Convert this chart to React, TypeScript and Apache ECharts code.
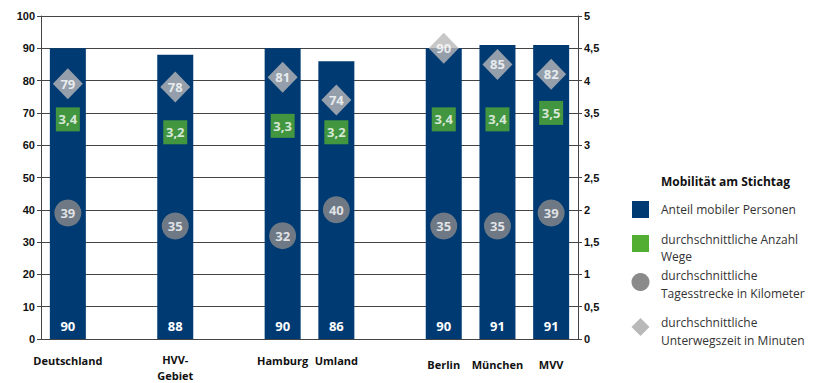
import React, { useEffect, useRef } from "react";
import * as echarts from "echarts";

const categories = ["Deutschland", "", "HVV-\nGebiet", "", "Hamburg", "Umland", "", "Berlin", "München", "MVV"];
const anteilMobil = [90, null, 88, null, 90, 86, null, 90, 91, 91];
const anzahlWege = [3.4, null, 3.2, null, 3.3, 3.2, null, 3.4, 3.4, 3.5];
const tagesstrecke = [39, null, 35, null, 32, 40, null, 35, 35, 39];
const unterwegszeit = [79, null, 78, null, 81, 74, null, 90, 85, 82];

const legendTitle = "Mobilität am Stichtag";
const seriesNames = [
  "Anteil mobiler Personen",
  "durchschnittliche Anzahl\nWege",
  "durchschnittliche\nTagesstrecke in Kilometer",
  "durchschnittliche\nUnterwegszeit in Minuten",
];

const NAVY = "#003a72";
const GREEN = "#52ae32";
const DARKGREY = "#8a8a8a";
const LIGHTGREY = "#b9b9b9";
const FONT = "'Open Sans', sans-serif";

const labelPad: Record<string, number> = {
  Deutschland: 1,
  "HVV-\nGebiet": 0,
  Hamburg: 1,
  Umland: 1,
  Berlin: 5,
  München: 5,
  MVV: 5,
};

const comma = (v: number) => String(v).replace(".", ",");

export default function App() {
  const ref = useRef<HTMLDivElement>(null);
  useEffect(() => {
    if (!ref.current) return;
    const chart = echarts.init(ref.current, null, { renderer: "svg" });
    const inLabel = {
      show: true,
      color: "#fff",
      fontWeight: "bold" as const,
      fontSize: 13,
      fontFamily: FONT,
    };
    const catData = categories.map((c) => ({
      value: c,
      textStyle: { padding: [labelPad[c] ?? 0, 0, 0, 0] },
    }));
    chart.setOption({
      animation: false,
      grid: { left: 41, right: 236, top: 16, bottom: 42 },
      xAxis: {
        type: "category",
        data: catData,
        axisLine: { show: true, lineStyle: { color: "#444", width: 1 } },
        axisTick: { show: false },
        axisLabel: {
          interval: 0,
          margin: 12,
          color: "#111",
          fontWeight: "bold",
          fontSize: 11,
          lineHeight: 16,
          fontFamily: FONT,
          verticalAlign: "top",
        },
      },
      yAxis: [
        {
          type: "value",
          min: 0,
          max: 100,
          interval: 10,
          axisLine: { show: true, lineStyle: { color: "#444" } },
          axisTick: { show: true, length: 4, lineStyle: { color: "#444" } },
          splitLine: { show: true, lineStyle: { color: "#444", width: 1 } },
          axisLabel: {
            color: "#111",
            fontWeight: "bold",
            fontSize: 11,
            fontFamily: "'Liberation Sans', Arial, sans-serif",
            margin: 6,
          },
        },
        {
          type: "value",
          min: 0,
          max: 5,
          interval: 0.5,
          position: "right",
          axisLine: { show: true, lineStyle: { color: "#444" } },
          axisTick: { show: true, length: 4, lineStyle: { color: "#444" } },
          splitLine: { show: false },
          axisLabel: {
            color: "#111",
            fontWeight: "bold",
            fontSize: 11,
            fontFamily: "'Liberation Sans', Arial, sans-serif",
            margin: 6,
            formatter: (v: number) => comma(v),
          },
        },
      ],
      series: [
        {
          name: seriesNames[0],
          type: "bar",
          yAxisIndex: 0,
          data: anteilMobil,
          barWidth: 36,
          itemStyle: { color: NAVY },
          label: { ...inLabel, position: "insideBottom", distance: 7 },
        },
        {
          name: seriesNames[1],
          type: "scatter",
          yAxisIndex: 1,
          data: anzahlWege,
          symbol: "rect",
          symbolSize: 24,
          itemStyle: { color: GREEN },
          label: { ...inLabel, position: "inside", formatter: (p: any) => comma(p.value) },
          z: 3,
        },
        {
          name: seriesNames[2],
          type: "scatter",
          yAxisIndex: 0,
          data: tagesstrecke,
          symbol: "circle",
          symbolSize: 27,
          itemStyle: { color: DARKGREY },
          label: { ...inLabel, position: "inside" },
          z: 3,
        },
        {
          name: seriesNames[3],
          type: "scatter",
          yAxisIndex: 0,
          data: unterwegszeit,
          symbol: "diamond",
          symbolSize: [30, 31],
          itemStyle: { color: LIGHTGREY },
          label: { ...inLabel, position: "inside" },
          z: 3,
        },
      ],
      graphic: [
        {
          type: "text",
          left: 661,
          top: 175,
          style: { text: legendTitle, font: `bold 12px ${FONT}`, fill: "#111" },
        },
        { type: "rect", shape: { x: 632, y: 201, width: 17, height: 17 }, style: { fill: NAVY } },
        { type: "rect", shape: { x: 632, y: 235, width: 17, height: 17 }, style: { fill: GREEN } },
        { type: "circle", shape: { cx: 640.5, cy: 282, r: 9 }, style: { fill: DARKGREY } },
        {
          type: "polygon",
          shape: { points: [[640.5, 318], [649.5, 327], [640.5, 336], [631.5, 327]] },
          style: { fill: LIGHTGREY },
        },
        {
          type: "text",
          x: 661,
          y: 209,
          style: { text: seriesNames[0], font: `12px ${FONT}`, fill: "#333", verticalAlign: "middle", lineHeight: 17 },
        },
        {
          type: "text",
          x: 661,
          y: 248,
          style: { text: seriesNames[1], font: `12px ${FONT}`, fill: "#333", verticalAlign: "middle", lineHeight: 17 },
        },
        {
          type: "text",
          x: 661,
          y: 284,
          style: { text: seriesNames[2], font: `12px ${FONT}`, fill: "#333", verticalAlign: "middle", lineHeight: 18 },
        },
        {
          type: "text",
          x: 661,
          y: 331,
          style: { text: seriesNames[3], font: `12px ${FONT}`, fill: "#333", verticalAlign: "middle", lineHeight: 18 },
        },
      ],
    });
    return () => chart.dispose();
  }, []);
  return <div ref={ref} style={{ width: 814, height: 383, position: "absolute", left: 0, top: 0 }} />;
}
